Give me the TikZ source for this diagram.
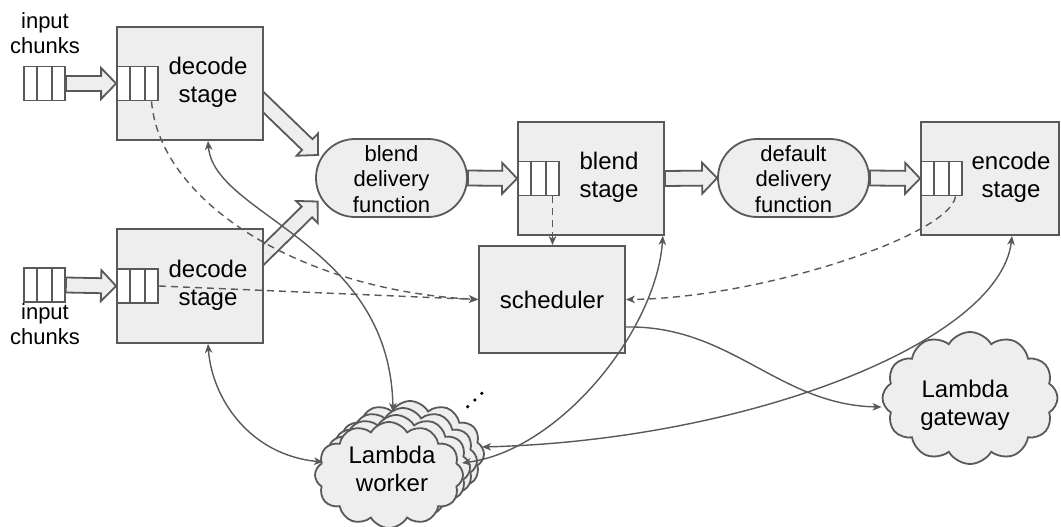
\documentclass[tikz,border=0pt]{standalone}
\usepackage{fontspec}
\setmainfont{Liberation Sans}
\usetikzlibrary{calc,shapes.symbols,arrows.meta,backgrounds}
\definecolor{lc}{HTML}{595959}
\definecolor{fc}{HTML}{EEEEEE}

% thick hollow arrow from #1 to #2
\newcommand\fatarrow[2]{%
  \coordinate (fa-s) at (#1);
  \coordinate (fa-e) at (#2);
  \coordinate (fa-h) at ($(fa-e)!15pt!(fa-s)$);
  \draw[fat] ($(fa-s)!7.5pt!90:(fa-e)$) -- ($(fa-h)!7.5pt!-90:(fa-s)$)
    -- ($(fa-h)!15.5pt!-90:(fa-s)$) -- (fa-e) -- ($(fa-h)!15.5pt!90:(fa-s)$)
    -- ($(fa-h)!7.5pt!90:(fa-s)$) -- ($(fa-s)!7.5pt!-90:(fa-e)$) -- cycle;
}
% the two dividers of a three-slot queue
\newcommand\qcells[1]{%
  \draw[cellline] ($(#1.north west)!1/3!(#1.north east)$) -- ($(#1.south west)!1/3!(#1.south east)$);
  \draw[cellline] ($(#1.north west)!2/3!(#1.north east)$) -- ($(#1.south west)!2/3!(#1.south east)$);
}

\tikzset{
  box/.style={draw=lc, fill=fc, line width=1.8pt, inner sep=0pt},
  stagebox/.style={box, minimum width=146pt, minimum height=113pt},
  queue/.style={draw=lc, fill=white, line width=1.8pt, inner sep=0pt,
    minimum width=41pt, minimum height=34pt},
  cellline/.style={draw=lc, line width=1.8pt},
  fnbox/.style={box, rounded corners=39pt, minimum width=151pt, minimum height=78pt},
  fat/.style={draw=lc, fill=fc, line width=1.8pt, line join=miter},
  puff/.style={cloud, draw=lc, fill=fc, line width=1.8pt, cloud puffs=12,
    cloud puff arc=120, cloud ignores aspect, inner sep=0pt},
  bigtext/.style={align=center, inner sep=0pt, font=\fontsize{24}{28}\selectfont},
  fntext/.style={align=center, inner sep=0pt, font=\fontsize{22}{25.5}\selectfont},
  intext/.style={align=center, inner sep=0pt, font=\fontsize{22}{25}\selectfont},
  tip/.tip={Stealth[length=9pt, width=7.5pt, inset=2.5pt]},
  link/.style={draw=lc, line width=1.4pt},
  biarrow/.style={link, tip-tip},
  onearrow/.style={link, -tip},
  dasharrow/.style={link, dash pattern=on 7pt off 5pt, -tip},
  moredot/.style={fill=black, circle, inner sep=0pt, minimum size=3.6pt},
}

\begin{document}
\begin{tikzpicture}[x=1pt, y=-1pt]
\useasboundingbox (0,0) rectangle (1061,527);

% decode stages
\node[stagebox] (dec1) at (190,83.5) {};
\node[queue, anchor=west] (dq1) at (dec1.west) {};
\qcells{dq1}
\node[bigtext] (dec1t) at (208,82) {decode\\stage};

\node[stagebox, minimum height=114pt] (dec2) at (190,286) {};
\node[queue, anchor=west] (dq2) at (dec2.west) {};
\qcells{dq2}
\node[bigtext] (dec2t) at (208,285) {decode\\stage};

% input queues
\node[queue] (iq1) at (44.5,83.5) {};
\qcells{iq1}
\node[intext] (iq1t) at (45,33) {input\\chunks};
\node[queue] (iq2) at (44.5,285) {};
\qcells{iq2}
\node[intext] (iq2t) at (45,324) {input\\chunks};

% delivery functions
\node[fnbox] (bdf) at (391.5,178) {};
\node[fntext] (bdft) at (391.5,179) {blend\\delivery\\function};
\node[fnbox] (ddf) at (793.5,178) {};
\node[fntext] (ddft) at (793.5,179) {default\\delivery\\function};

% blend and encode stages
\node[stagebox] (bls) at (591,178.5) {};
\node[queue, anchor=west] (bq) at (bls.west) {};
\qcells{bq}
\node[bigtext] (blst) at (609,177) {blend\\stage};

\node[stagebox, minimum width=138pt] (enc) at (990,178.5) {};
\node[queue, anchor=west] (eq) at (enc.west) {};
\qcells{eq}
\node[bigtext] (enct) at (1011,177) {encode\\stage};

% scheduler
\node[box, minimum width=146pt, minimum height=107pt] (sch) at (552,299.5) {};
\node[bigtext] (scht) at (552,300) {scheduler};

% Lambda workers, stacked back to front
\foreach \i/\dx in {3/21,2/14,1/7}{
  \node[puff, minimum width=148pt, minimum height=106pt] (lw\i) at (389+\dx,475-\dx) {};
}
\node[puff, minimum width=148pt, minimum height=106pt] (lw) at (389,475) {};
\node[bigtext] (lwt) at (392,469) {Lambda\\worker};
\node[moredot] (md1) at (467.7,406.7) {};
\node[moredot] (md2) at (474.8,400) {};
\node[moredot] (md3) at (481.8,393.3) {};

% Lambda gateway
\node[puff, minimum width=175pt, minimum height=132pt] (gw) at (970,398) {};
\node[bigtext] (gwt) at (965,405) {Lambda\\gateway};

% data flow
\begin{pgfonlayer}{background}
  \fatarrow{iq1.east}{dq1.west}
  \fatarrow{iq2.east}{dq2.west}
  \fatarrow{$(dec1.east)+(-8,11.5)$}{$(bdf.west)+(3,-23)$}
  \fatarrow{$(dec2.east)+(-8,-24)$}{$(bdf.west)+(2.5,23.5)$}
  \fatarrow{bdf.east}{bq.west}
  \fatarrow{bls.east}{ddf.west}
  \fatarrow{ddf.east}{eq.west}
\end{pgfonlayer}

% control messages to the scheduler
\coordinate (bqd) at ($(bq.south)+(14,0)$);
\draw[dasharrow] ($(dq1.south)+(14,0)$) .. controls +(8.5,100) and +(-179,-9.5) .. (sch.west);
\draw[dasharrow] (dq2.east) -- (sch.west);
\draw[dasharrow] (bqd) -- (bqd |- sch.north);
\draw[dasharrow] ($(eq.south)+(14,0)$) .. controls +(-5.5,39) and +(135,-1.5) .. (sch.east);

% stages talking to workers
\draw[biarrow] ($(dec1.south)+(18,0)$) .. controls +(6,75) and +(-3,-170) .. ($(lw.center)+(4,-63)$);
\draw[biarrow] ($(dec2.south)+(18,0)$) .. controls +(4,55) and +(-73,-7) .. ($(lw.center)+(-66,-13)$);
\draw[biarrow] ($(bls.south east)+(-2,0)$) .. controls +(-7,95) and +(98,-13) .. ($(lw.center)+(73,-12)$);
\draw[biarrow] ($(enc.south)+(22,0)$) .. controls +(-12,105) and +(268,-7) .. ($(lw.center)+(93,-28)$);

% scheduler to gateway
\draw[onearrow] ($(sch.east)+(0,27.5)$) .. controls +(105,-2) and +(-103,-2) .. ($(gw.west)+(0,9)$);
\end{tikzpicture}
\end{document}
